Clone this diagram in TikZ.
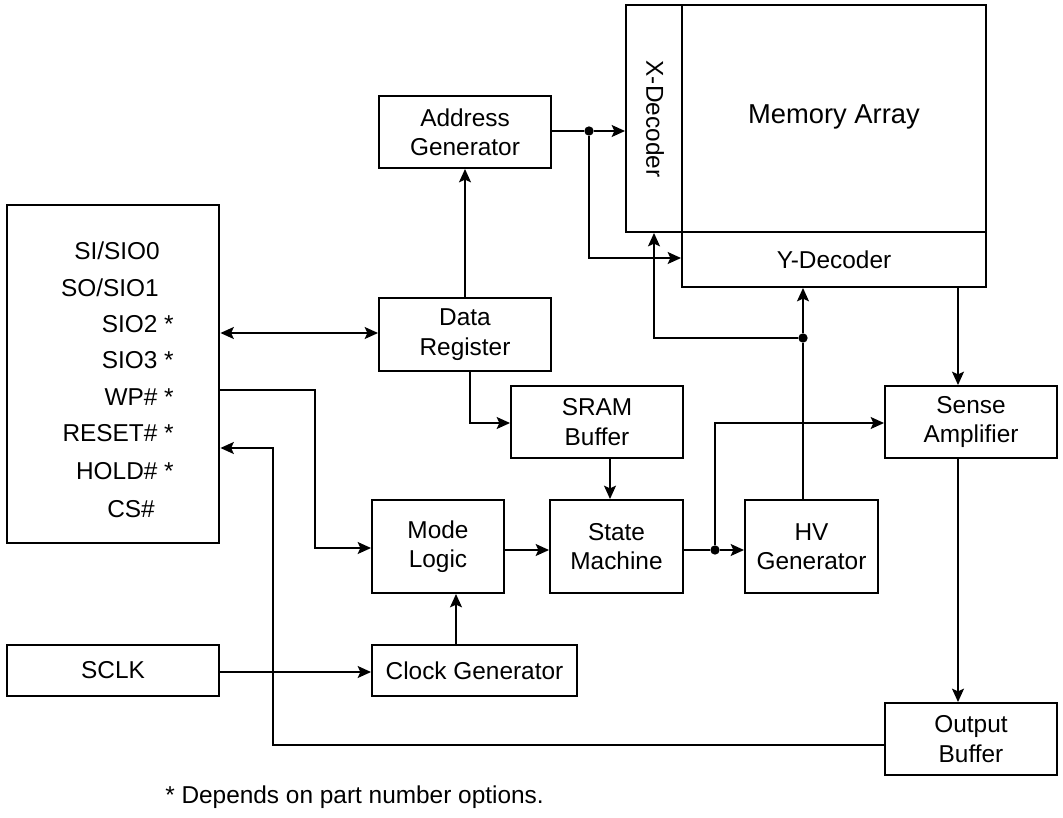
\documentclass[tikz,border=0pt]{standalone}
\usepackage{fontspec}
\setmainfont{Liberation Sans}
\usetikzlibrary{fit,arrows.meta}
\begin{document}
\begin{tikzpicture}[x=0.75pt,y=-0.75pt,
  every node/.style={font=\fontsize{18.3}{22}\selectfont,inner sep=0pt},
  box/.style={draw,line width=1.5pt,inner sep=0pt},
  thickbox/.style={draw,line width=2.2pt,inner sep=0pt},
  txt/.style={align=center},
  conn/.style={line width=1.1pt,-{Stealth[length=10pt,width=9pt,inset=2pt]}},
  biconn/.style={line width=1.1pt,{Stealth[length=10pt,width=9pt,inset=2pt]}-{Stealth[length=10pt,width=9pt,inset=2pt]}},
  wire/.style={line width=1.1pt},
  junction/.style={fill,circle,inner sep=0pt,minimum size=7pt}]
\useasboundingbox (0,0) rectangle (1063,817);
% boxes
\node[thickbox,fit={(7,205) (219,543)}] (pins) {};
\node[box,fit={(7,645) (219,696)}] (sclk) {};
\node[box,fit={(379,96) (551,168)}] (ag) {};
\node[box,fit={(379,298) (551,371)}] (dr) {};
\node[box,fit={(511,386) (683,458)}] (sram) {};
\node[box,fit={(372,500) (504,593)}] (ml) {};
\node[box,fit={(550,500) (683,593)}] (sm) {};
\node[box,fit={(745,500) (878,593)}] (hv) {};
\node[box,fit={(372,645) (577,696)}] (cg) {};
\node[box,fit={(626,5) (682,232)}] (xd) {};
\node[box,fit={(682,232) (986,287)}] (yd) {};
\node[thickbox,fit={(682,5) (986,232)}] (ma) {};
\node[box,fit={(885,386) (1057,458)}] (sa) {};
\node[box,fit={(885,703) (1057,775)}] (ob) {};
% box texts
\node[txt] (sclkT) at (sclk.center) {SCLK};
\node[txt] (agT) at (ag.center) {Address\\Generator};
\node[txt] (drT) at (dr.center) {Data\\Register};
\node[txt] (sramT) at (sram.center) {SRAM\\Buffer};
\node[txt] (mlT) at (ml.center) {Mode\\Logic};
\node[txt] (smT) at (sm.center) {State\\Machine};
\node[txt] (hvT) at (hv.center) {HV\\Generator};
\node[txt] (cgT) at (cg.center) {Clock Generator};
\node[rotate=-90] (xdT) at (655,119) {X-Decoder};
\node[txt] (ydT) at (yd.center) {Y-Decoder};
\node[font=\fontsize{20.5}{24}\selectfont] (maT) at (834,117) {Memory Array};
\node[txt] (saT) at (sa.center) {Sense\\Amplifier};
\node[txt] (obT) at (ob.center) {Output\\Buffer};
% pin labels
\node[anchor=base east] (p1) at (160,259) {SI/SIO0};
\node[anchor=base east] (p2) at (159,296) {SO/SIO1};
\node[anchor=base east] (p3) at (174,332) {SIO2 *};
\node[anchor=base east] (p4) at (174,368) {SIO3 *};
\node[anchor=base east] (p5) at (174,405) {WP\# *};
\node[anchor=base east] (p6) at (174,441) {RESET\# *};
\node[anchor=base east] (p7) at (174,479) {HOLD\# *};
\node[anchor=base east] (p8) at (155,517) {CS\#};
\node[anchor=west] (note) at (165,797) {* Depends on part number options.};
% junctions
\node[junction] (j1) at (589,131) {};
\node[junction] (j2) at (715,550) {};
\node[junction] (j3) at (803,338) {};
\coordinate (wp) at (pins.east |- 0,390);
\coordinate (rst) at (pins.east |- 0,448);
% connectors
\draw[wire] (ag.east |- j1) -- (j1);
\draw[conn] (j1) -- (xd.west |- j1);
\draw[conn] (j1) |- (yd.west |- 0,258);
\draw[conn] (dr.north -| 465,0) -- (ag.south -| 465,0);
\draw[biconn] (pins.east |- 0,333) -- (dr.west |- 0,333);
\draw[conn] (dr.south -| 470,0) |- (sram.west |- 0,423);
\draw[conn] (sram.south -| 610,0) -- (sm.north -| 610,0);
\draw[conn] (wp) -| (315,548) -- (ml.west |- 0,548);
\draw[conn] (ob.west |- 0,745) -| (273,448) -- (rst);
\draw[conn] (sclk.east |- 0,672) -- (cg.west |- 0,672);
\draw[conn] (cg.north -| 456,0) -- (ml.south -| 456,0);
\draw[conn] (ml.east |- 0,550) -- (sm.west |- 0,550);
\draw[wire] (sm.east |- j2) -- (j2);
\draw[conn] (j2) -- (hv.west |- j2);
\draw[conn] (j2) |- (sa.west |- 0,423);
\draw[wire] (hv.north -| j3) -- (j3);
\draw[conn] (j3) -- (yd.south -| j3);
\draw[conn] (j3) -| (xd.south -| 654,0);
\draw[conn] (yd.south -| 958,0) -- (sa.north -| 958,0);
\draw[conn] (sa.south -| 958,0) -- (ob.north -| 958,0);
\end{tikzpicture}
\end{document}
